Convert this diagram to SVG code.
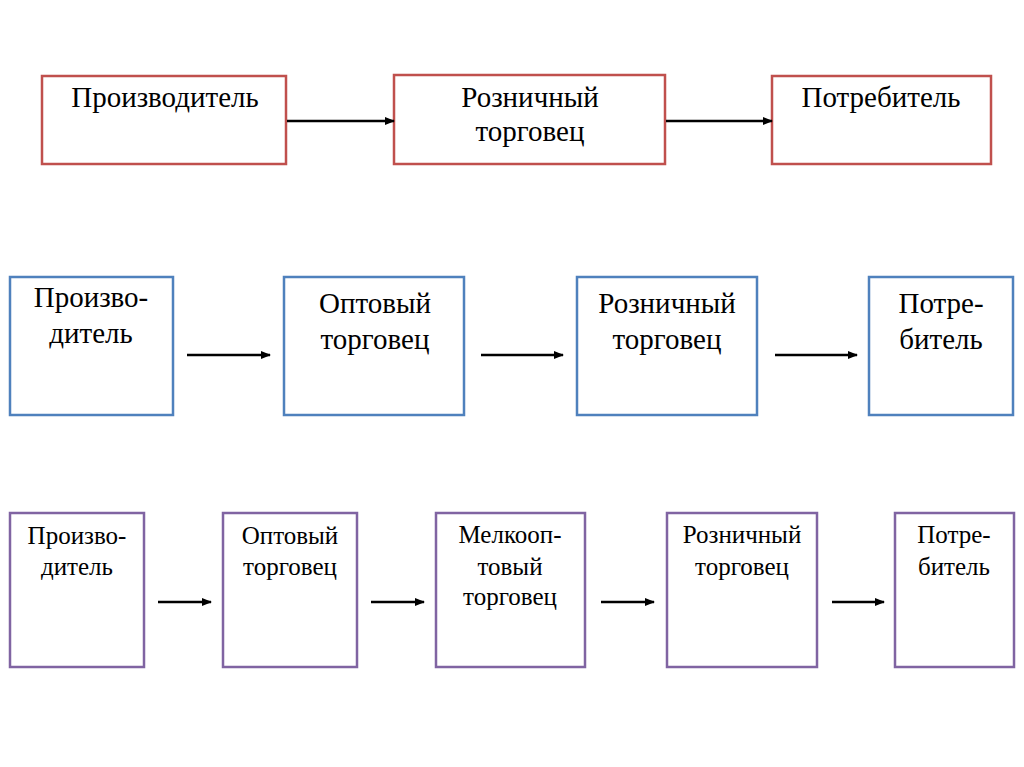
<svg xmlns="http://www.w3.org/2000/svg" width="1024" height="767" viewBox="0 0 1024 767">
<style>
.r{fill:#fff;stroke:#C0504D;stroke-width:2.5}
.b{fill:#fff;stroke:#4F81BD;stroke-width:2.5}
.p{fill:#fff;stroke:#8064A2;stroke-width:2.5}
text{font-family:"Liberation Serif","Times New Roman",serif;fill:#000;text-anchor:middle}
.t1{font-size:29px}
.t2{font-size:29px}
.t3{font-size:25px}
.c line{stroke:#000;stroke-width:2.5;marker-end:url(#ah)}
</style>
<defs>
<marker id="ah" markerWidth="10" markerHeight="8" refX="9" refY="4" orient="auto" markerUnits="userSpaceOnUse">
<path d="M0,0 L10,4 L0,8 Z" fill="#000"/>
</marker>
</defs>
<rect width="1024" height="767" fill="#fff"/>
<g id="r1n1"><rect class="r" x="42" y="76" width="244" height="88"/><text class="t1" x="165" y="107">Производитель</text></g>
<g id="r1n2"><rect class="r" x="394" y="75" width="271" height="89"/><text class="t1" x="530" y="107">Розничный</text><text class="t1" x="530" y="141">торговец</text></g>
<g id="r1n3"><rect class="r" x="772" y="76" width="219" height="88"/><text class="t1" x="881" y="107">Потребитель</text></g>

<g id="r2n1"><rect class="b" x="10" y="277" width="163" height="138"/><text class="t2" x="91" y="307">Произво-</text><text class="t2" x="91" y="343">дитель</text></g>
<g id="r2n2"><rect class="b" x="284" y="277" width="180" height="138"/><text class="t2" x="375" y="313">Оптовый</text><text class="t2" x="375" y="349">торговец</text></g>
<g id="r2n3"><rect class="b" x="577" y="277" width="180" height="138"/><text class="t2" x="667" y="313">Розничный</text><text class="t2" x="667" y="349">торговец</text></g>
<g id="r2n4"><rect class="b" x="869" y="277" width="144" height="138"/><text class="t2" x="941" y="313">Потре-</text><text class="t2" x="941" y="349">битель</text></g>

<g id="r3n1"><rect class="p" x="10" y="513" width="134" height="154"/><text class="t3" x="77" y="544">Произво-</text><text class="t3" x="77" y="575">дитель</text></g>
<g id="r3n2"><rect class="p" x="223" y="513" width="134" height="154"/><text class="t3" x="290" y="544">Оптовый</text><text class="t3" x="290" y="575">торговец</text></g>
<g id="r3n3"><rect class="p" x="436" y="513" width="149" height="154"/><text class="t3" x="510" y="543">Мелкооп-</text><text class="t3" x="510" y="575">товый</text><text class="t3" x="510" y="605">торговец</text></g>
<g id="r3n4"><rect class="p" x="667" y="513" width="150" height="154"/><text class="t3" x="742" y="543">Розничный</text><text class="t3" x="742" y="575">торговец</text></g>
<g id="r3n5"><rect class="p" x="895" y="513" width="119" height="154"/><text class="t3" x="954" y="543">Потре-</text><text class="t3" x="954" y="575">битель</text></g>

<g id="connectors" class="c">
<line x1="287" y1="121" x2="394" y2="121"/>
<line x1="666" y1="121" x2="772" y2="121"/>
<line x1="187" y1="355" x2="270" y2="355"/>
<line x1="481" y1="355" x2="563" y2="355"/>
<line x1="775" y1="355" x2="857" y2="355"/>
<line x1="158" y1="602" x2="211" y2="602"/>
<line x1="371" y1="602" x2="424" y2="602"/>
<line x1="601" y1="602" x2="654" y2="602"/>
<line x1="832" y1="602" x2="884" y2="602"/>
</g>
</svg>
